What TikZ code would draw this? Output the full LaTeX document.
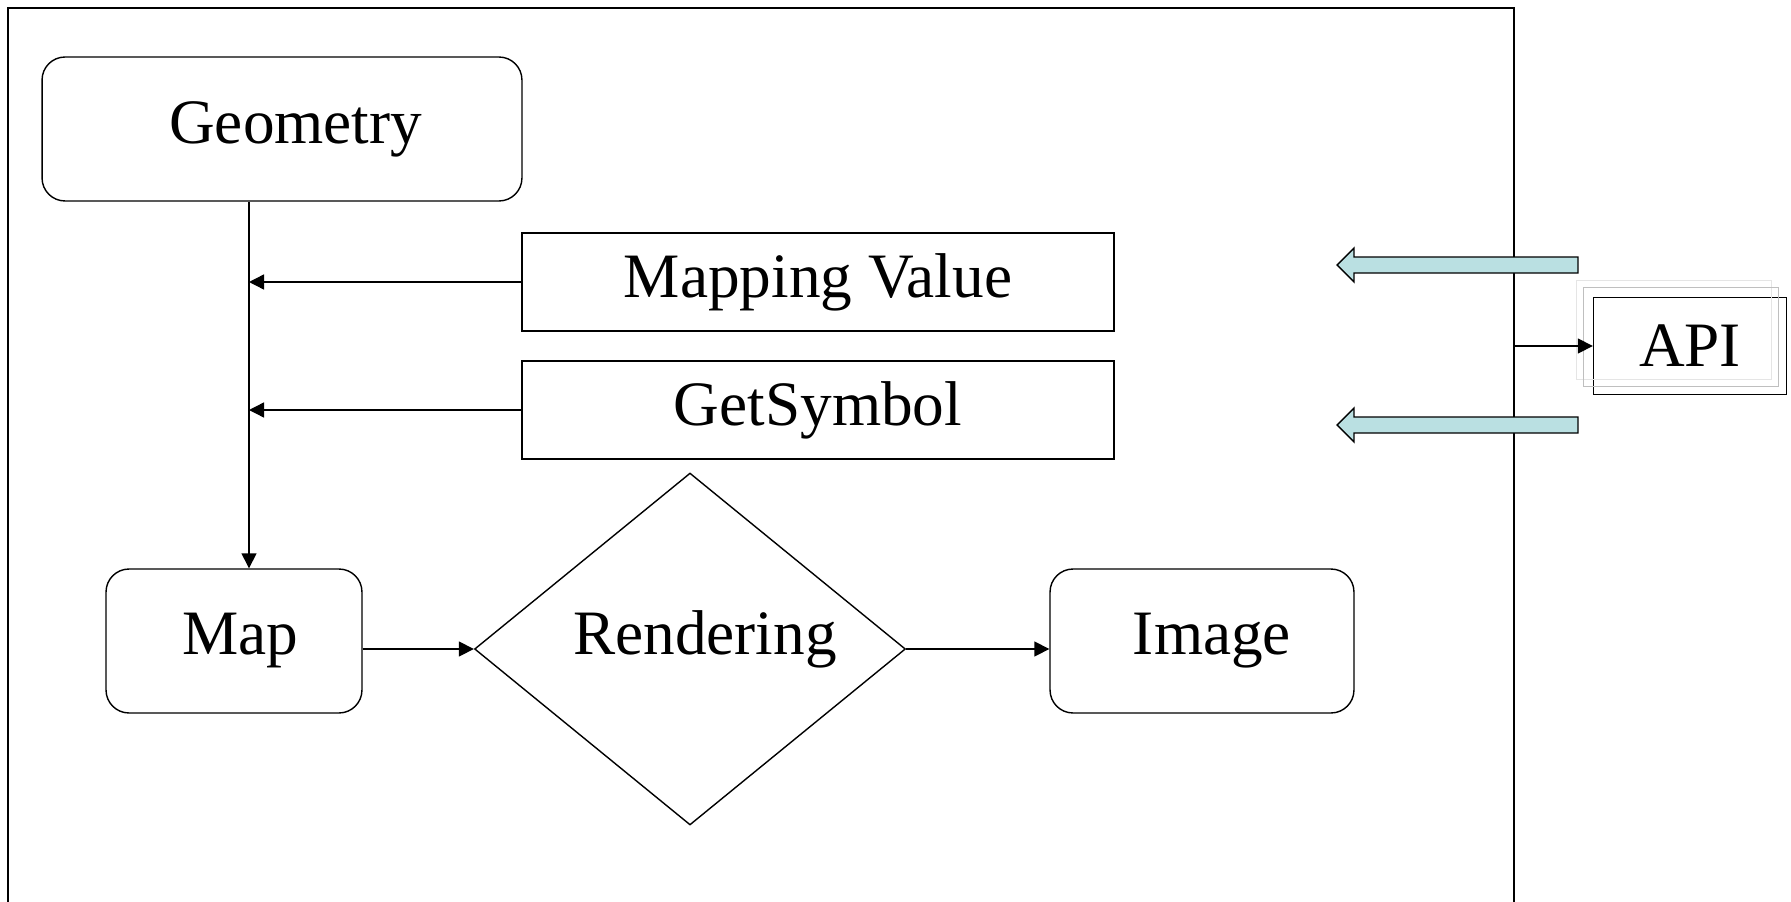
\documentclass[tikz,border=0pt]{standalone}
\usepackage{fontspec}
\setmainfont{Liberation Serif}
\usetikzlibrary{arrows.meta,shapes.geometric}
\definecolor{arrowfill}{RGB}{186,224,226}

\begin{document}
\begin{tikzpicture}[x=0.02cm,y=-0.02cm,line width=0.8pt]
  \tikzstyle{box}=[rectangle,draw,minimum width=11.84cm,minimum height=1.96cm,font=\fontsize{36}{42}\selectfont]
  \tikzstyle{rbox}=[box,rounded corners=0.46cm,minimum height=2.88cm]
  \tikzstyle{link}=[draw,-{Triangle[length=3mm,width=3mm]}]
  \tikzstyle{fat}=[draw,fill=arrowfill]
  \useasboundingbox (0,0) rectangle (1791,902);
  % outer frame, open at the bottom
  \coordinate (fl) at (8,902);
  \coordinate (fr) at (1514,902);
  \draw (fl) |- (8,8) -| (fr);
  \node [rbox,minimum width=9.6cm]  (geom) at (282,129)  {\hspace{0.55cm}Geometry};
  \node [box]                       (mapv) at (818,282)  {Mapping Value};
  \node [box]                       (sym)  at (818,410)  {GetSymbol};
  \node [rbox,minimum width=5.12cm] (map)  at (234,641)  {\hspace{0.25cm}Map};
  \node [diamond,draw,minimum width=8.62cm,minimum height=7.04cm,inner sep=0pt,
         label={[font=\fontsize{36}{42}\selectfont,xshift=0.3cm,yshift=0.2cm]center:Rendering}] (rend) at (690,649) {};
  \node [rbox,minimum width=6.08cm] (img)  at (1202,641) {\hspace{0.4cm}Image};
  \node [box,minimum width=3.86cm,minimum height=1.94cm] (api) at (1690,346) {API};
  \draw [gray!20,line width=0.5pt] ([shift={(-16,-16)}]api.south west) rectangle ([shift={(-16,-16)}]api.north east);
  \draw [gray!50,line width=0.5pt] ([shift={(-9,-9)}]api.south west) rectangle ([shift={(-9,-9)}]api.north east);
  \coordinate (trunk) at ([xshift=-0.66cm]geom.south);
  \draw [link] (trunk) -- (trunk |- map.north);
  \draw [link] (mapv.west) -- (mapv.west -| trunk);
  \draw [link] (sym.west) -- (sym.west -| trunk);
  \draw [link] (map.east |- rend.west) -- (rend.west);
  \draw [link] (rend.east) -- (rend.east -| img.west);
  \draw [link] (api.west -| fr) -- (api.west);
  % block arrows
  \foreach \y in {265,425}
    \draw [fat] (1578,\y-8) -- (1354,\y-8) -- (1354,\y-17) -- (1337,\y)
      -- (1354,\y+17) -- (1354,\y+8) -- (1578,\y+8) -- cycle;
\end{tikzpicture}
\end{document}
